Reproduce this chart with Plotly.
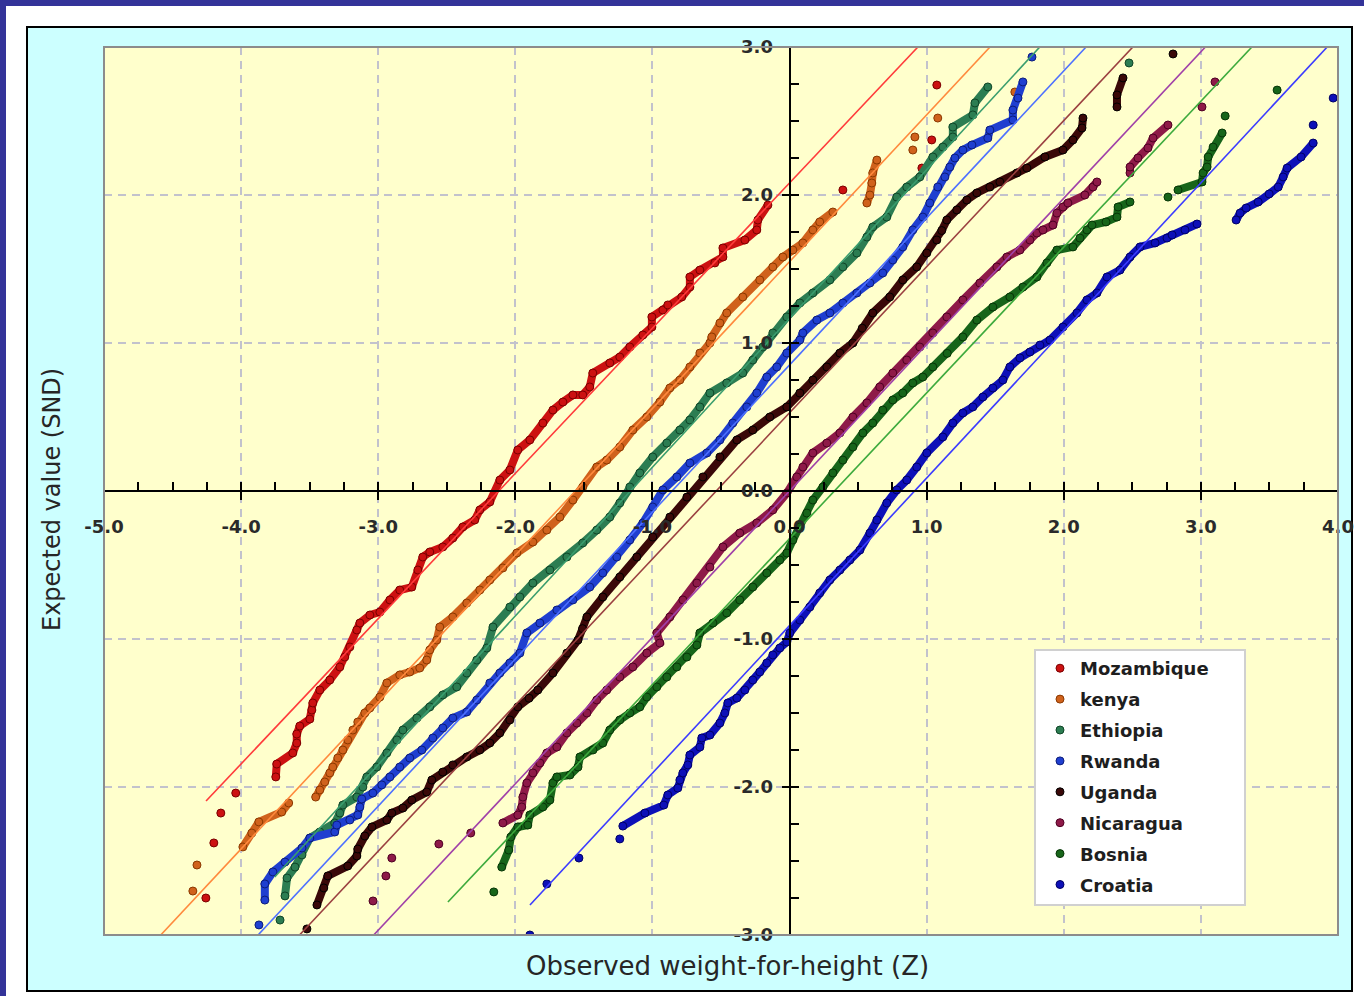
import plotly.graph_objects as go

# ---------------- data ----------------
countries = ["Mozambique", "kenya", "Ethiopia", "Rwanda", "Uganda", "Nicaragua", "Bosnia", "Croatia"]

mozambique_x = [-4.257, -4.199, -4.148, -4.039, -3.747, -3.740, -3.623, -3.594, -3.594, -3.572, -3.499, -3.484, -3.477,
                -3.426, -3.353, -3.280, -3.244, -3.207, -3.156, -3.134, -3.061, -2.988, -2.915, -2.843, -2.755, -2.711,
                -2.675, -2.624, -2.529, -2.456, -2.383, -2.296, -2.259, -2.186, -2.113, -2.040, -1.982, -1.894, -1.799,
                -1.726, -1.653, -1.580, -1.508, -1.457, -1.435, -1.311, -1.238, -1.165, -1.070, -1.004, -1.004, -0.924,
                -0.888, -0.786, -0.727, -0.727, -0.654, -0.545, -0.486, -0.486, -0.326, -0.239, -0.231, -0.158, 0.389,
                0.965, 1.037, 1.074]
mozambique_y = [-2.750, -2.378, -2.176, -2.041, -1.932, -1.845, -1.770, -1.703, -1.642, -1.588, -1.541, -1.480, -1.432,
                -1.345, -1.277, -1.189, -1.122, -1.054, -0.939, -0.892, -0.838, -0.818, -0.736, -0.669, -0.649, -0.534,
                -0.446, -0.412, -0.378, -0.318, -0.243, -0.196, -0.128, -0.074, 0.074, 0.142, 0.277, 0.345, 0.459,
                0.547, 0.601, 0.649, 0.649, 0.703, 0.797, 0.865, 0.905, 0.973, 1.054, 1.108, 1.176, 1.223,
                1.257, 1.311, 1.378, 1.446, 1.493, 1.541, 1.581, 1.642, 1.696, 1.764, 1.831, 1.932, 2.034,
                2.182, 2.372, 2.743]

kenya_x = [-4.352, -4.322, -3.987, -3.922, -3.871, -3.704, -3.653, -3.456, -3.426, -3.390, -3.353, -3.331, -3.295,
           -3.258, -3.222, -3.185, -3.149, -3.098, -3.061, -2.988, -2.937, -2.843, -2.770, -2.697, -2.646, -2.624,
           -2.573, -2.551, -2.456, -2.354, -2.259, -2.186, -2.091, -1.989, -1.872, -1.770, -1.675, -1.580, -1.508,
           -1.406, -1.333, -1.238, -1.143, -1.041, -0.946, -0.873, -0.800, -0.727, -0.654, -0.581, -0.567, -0.508,
           -0.458, -0.341, -0.217, -0.122, -0.049, 0.024, 0.097, 0.170, 0.220, 0.316, 0.564, 0.586, 0.600, 0.607,
           0.637, 0.899, 0.914, 1.081, 1.643]
kenya_y = [-2.703, -2.527, -2.405, -2.311, -2.236, -2.169, -2.108, -2.068, -2.020, -1.966, -1.905, -1.865, -1.804,
           -1.750, -1.682, -1.615, -1.561, -1.500, -1.466, -1.392, -1.297, -1.243, -1.223, -1.196, -1.142, -1.074,
           -1.007, -0.919, -0.851, -0.757, -0.669, -0.601, -0.520, -0.419, -0.345, -0.264, -0.176, -0.061, 0.027,
           0.162, 0.209, 0.297, 0.412, 0.500, 0.601, 0.696, 0.750, 0.838, 0.932, 1.000, 1.041, 1.135,
           1.203, 1.311, 1.426, 1.514, 1.581, 1.628, 1.676, 1.764, 1.818, 1.885, 1.946, 2.000, 2.081, 2.149,
           2.236, 2.304, 2.392, 2.520, 2.696]

ethiopia_x = [-3.716, -3.680, -3.665, -3.607, -3.556, -3.499, -3.426, -3.317, -3.280, -3.258, -3.156, -3.112, -3.083,
              -3.010, -2.937, -2.864, -2.820, -2.718, -2.624, -2.529, -2.427, -2.354, -2.281, -2.208, -2.163, -2.040,
              -1.967, -1.872, -1.748, -1.624, -1.508, -1.406, -1.311, -1.238, -1.165, -1.092, -0.998, -0.895, -0.800,
              -0.727, -0.654, -0.581, -0.458, -0.341, -0.268, -0.195, -0.122, -0.020, 0.075, 0.170, 0.294, 0.389,
              0.491, 0.564, 0.607, 0.709, 0.782, 0.855, 0.950, 1.045, 1.118, 1.191, 1.191, 1.337, 1.352, 1.446,
              2.476]
ethiopia_y = [-2.899, -2.736, -2.615, -2.541, -2.459, -2.345, -2.304, -2.243, -2.176, -2.122, -2.068, -2.000, -1.932,
              -1.865, -1.770, -1.682, -1.615, -1.534, -1.459, -1.378, -1.324, -1.230, -1.142, -1.061, -0.919, -0.784,
              -0.716, -0.622, -0.534, -0.446, -0.351, -0.264, -0.176, -0.081, 0.027, 0.122, 0.230, 0.324, 0.412,
              0.480, 0.568, 0.662, 0.730, 0.797, 0.885, 0.973, 1.068, 1.176, 1.270, 1.338, 1.426, 1.514,
              1.608, 1.716, 1.784, 1.851, 1.986, 2.054, 2.122, 2.257, 2.324, 2.392, 2.459, 2.541, 2.622, 2.730,
              2.892]

rwanda_x = [-3.870, -3.827, -3.827, -3.768, -3.680, -3.556, -3.499, -3.317, -3.302, -3.207, -3.149, -3.134, -3.120,
            -3.039, -2.974, -2.915, -2.843, -2.770, -2.682, -2.602, -2.529, -2.456, -2.354, -2.281, -2.186, -2.113,
            -2.040, -1.967, -1.916, -1.821, -1.697, -1.580, -1.457, -1.362, -1.260, -1.165, -1.070, -0.998, -0.924,
            -0.822, -0.727, -0.603, -0.508, -0.414, -0.312, -0.239, -0.166, -0.093, -0.020, 0.075, 0.097, 0.199,
            0.294, 0.389, 0.491, 0.586, 0.680, 0.753, 0.826, 0.899, 0.972, 1.023, 1.081, 1.133, 1.169, 1.206,
            1.264, 1.330, 1.446, 1.461, 1.629, 1.629, 1.666, 1.702, 1.768]
rwanda_y = [-2.932, -2.764, -2.655, -2.574, -2.507, -2.412, -2.345, -2.304, -2.257, -2.223, -2.189, -2.135, -2.081,
            -2.041, -1.986, -1.932, -1.865, -1.804, -1.750, -1.669, -1.601, -1.534, -1.493, -1.412, -1.297, -1.230,
            -1.162, -1.095, -0.959, -0.892, -0.804, -0.736, -0.649, -0.554, -0.446, -0.331, -0.216, -0.108, 0.007,
            0.095, 0.189, 0.257, 0.345, 0.459, 0.568, 0.662, 0.770, 0.838, 0.932, 1.020, 1.068, 1.155,
            1.203, 1.270, 1.338, 1.405, 1.473, 1.561, 1.649, 1.764, 1.851, 1.946, 2.054, 2.122, 2.189, 2.250,
            2.304, 2.338, 2.385, 2.439, 2.507, 2.574, 2.655, 2.764, 2.932]

uganda_x = [-3.520, -3.447, -3.397, -3.368, -3.222, -3.156, -3.149, -3.098, -3.046, -2.937, -2.901, -2.820, -2.755,
            -2.646, -2.609, -2.529, -2.456, -2.354, -2.259, -2.186, -2.113, -2.040, -1.982, -1.900, -1.836, -1.726,
            -1.624, -1.543, -1.510, -1.478, -1.362, -1.238, -1.114, -0.998, -0.873, -0.749, -0.632, -0.508, -0.384,
            -0.268, -0.144, -0.020, 0.075, 0.170, 0.272, 0.367, 0.462, 0.530, 0.607, 0.731, 0.826, 0.928, 1.001,
            1.074, 1.110, 1.147, 1.220, 1.293, 1.366, 1.461, 1.534, 1.658, 1.731, 1.862, 1.994, 2.067, 2.133,
            2.140, 2.388, 2.388, 2.432, 2.797]
uganda_y = [-2.959, -2.797, -2.682, -2.601, -2.534, -2.466, -2.419, -2.331, -2.270, -2.223, -2.176, -2.142, -2.088,
            -2.034, -1.953, -1.899, -1.851, -1.797, -1.750, -1.703, -1.635, -1.547, -1.459, -1.400, -1.345, -1.230,
            -1.095, -1.007, -0.930, -0.851, -0.716, -0.581, -0.446, -0.311, -0.176, -0.041, 0.095, 0.230, 0.345,
            0.412, 0.500, 0.568, 0.662, 0.750, 0.838, 0.932, 1.000, 1.100, 1.203, 1.311, 1.426, 1.514, 1.608,
            1.696, 1.760, 1.831, 1.899, 1.966, 2.014, 2.054, 2.088, 2.149, 2.182, 2.257, 2.304, 2.372, 2.453,
            2.520, 2.595, 2.676, 2.791, 2.953]

nicaragua_x = [-3.038, -2.944, -2.901, -2.558, -2.325, -2.091, -1.982, -1.953, -1.945, -1.916, -1.872, -1.821, -1.770,
               -1.697, -1.624, -1.551, -1.478, -1.406, -1.333, -1.238, -1.143, -1.041, -0.946, -0.968, -0.873, -0.778,
               -0.676, -0.581, -0.486, -0.363, -0.239, -0.122, -0.020, 0.053, 0.097, 0.170, 0.272, 0.367, 0.462,
               0.564, 0.658, 0.753, 0.855, 0.950, 1.045, 1.147, 1.264, 1.388, 1.512, 1.585, 1.680, 1.753, 1.804,
               1.848, 1.921, 1.950, 1.994, 2.030, 2.154, 2.213, 2.242, 2.483, 2.483, 2.541, 2.614, 2.651, 2.760,
               3.008, 3.103]
nicaragua_y = [-2.770, -2.601, -2.480, -2.385, -2.311, -2.243, -2.189, -2.135, -2.068, -1.973, -1.905, -1.838, -1.770,
               -1.730, -1.635, -1.568, -1.500, -1.412, -1.345, -1.257, -1.189, -1.095, -1.027, -0.959, -0.851, -0.736,
               -0.622, -0.514, -0.378, -0.284, -0.216, -0.128, -0.014, 0.095, 0.162, 0.257, 0.324, 0.392, 0.500,
               0.595, 0.703, 0.797, 0.885, 0.973, 1.068, 1.176, 1.291, 1.405, 1.514, 1.581, 1.628, 1.696, 1.743,
               1.764, 1.797, 1.878, 1.919, 1.946, 2.000, 2.054, 2.088, 2.149, 2.189, 2.250, 2.318, 2.385, 2.473,
               2.595, 2.764]

bosnia_x = [-2.157, -2.099, -2.048, -2.033, -1.982, -1.909, -1.894, -1.799, -1.748, -1.726, -1.697, -1.602, -1.543,
            -1.529, -1.434, -1.362, -1.311, -1.238, -1.165, -1.092, -1.041, -0.968, -0.895, -0.822, -0.749, -0.676,
            -0.654, -0.559, -0.458, -0.363, -0.268, -0.166, -0.071, -0.020, 0.024, 0.075, 0.126, 0.170, 0.243,
            0.316, 0.389, 0.462, 0.535, 0.607, 0.680, 0.753, 0.826, 0.899, 0.972, 1.045, 1.150, 1.264, 1.366,
            1.483, 1.607, 1.702, 1.804, 1.877, 1.950, 2.067, 2.118, 2.169, 2.206, 2.308, 2.388, 2.396, 2.483,
            2.760, 2.833, 3.008, 3.016, 3.045, 3.053, 3.089, 3.155, 3.177, 3.556]
bosnia_y = [-2.709, -2.541, -2.426, -2.338, -2.270, -2.257, -2.189, -2.135, -2.088, -1.973, -1.932, -1.919, -1.865,
            -1.797, -1.750, -1.703, -1.615, -1.547, -1.500, -1.459, -1.392, -1.324, -1.257, -1.189, -1.122, -1.041,
            -0.959, -0.892, -0.824, -0.736, -0.649, -0.554, -0.466, -0.419, -0.331, -0.243, -0.149, -0.061, 0.027,
            0.122, 0.209, 0.297, 0.392, 0.459, 0.547, 0.615, 0.662, 0.730, 0.770, 0.838, 0.930, 1.041, 1.155,
            1.243, 1.311, 1.378, 1.446, 1.541, 1.628, 1.649, 1.709, 1.764, 1.797, 1.818, 1.851, 1.919, 1.953,
            1.986, 2.034, 2.088, 2.149, 2.189, 2.257, 2.324, 2.419, 2.534, 2.709]

croatia_x = [-1.894, -1.770, -1.536, -1.238, -1.216, -1.055, -0.917, -0.888, -0.815, -0.800, -0.778, -0.742, -0.727,
             -0.654, -0.640, -0.581, -0.508, -0.472, -0.450, -0.384, -0.326, -0.268, -0.217, -0.166, -0.122, -0.071,
             -0.020, 0.002, 0.075, 0.148, 0.220, 0.294, 0.367, 0.440, 0.513, 0.586, 0.637, 0.709, 0.782, 0.855,
             0.928, 1.001, 1.118, 1.191, 1.264, 1.337, 1.410, 1.483, 1.556, 1.607, 1.680, 1.753, 1.826, 1.899,
             1.994, 2.096, 2.169, 2.242, 2.315, 2.410, 2.483, 2.556, 2.666, 2.753, 2.790, 2.884, 2.972, 3.257,
             3.286, 3.330, 3.418, 3.498, 3.564, 3.600, 3.629, 3.731, 3.819, 3.819, 3.965]
croatia_y = [-3.000, -2.655, -2.480, -2.351, -2.264, -2.176, -2.122, -2.054, -2.007, -1.953, -1.905, -1.851, -1.784,
             -1.730, -1.669, -1.649, -1.568, -1.500, -1.432, -1.399, -1.345, -1.277, -1.223, -1.162, -1.108, -1.061,
             -1.020, -0.959, -0.872, -0.784, -0.689, -0.601, -0.534, -0.466, -0.399, -0.284, -0.196, -0.081, 0.007,
             0.074, 0.162, 0.257, 0.365, 0.459, 0.527, 0.568, 0.635, 0.696, 0.750, 0.838, 0.899, 0.939, 0.986,
             1.020, 1.108, 1.203, 1.291, 1.338, 1.446, 1.493, 1.581, 1.649, 1.676, 1.709, 1.730, 1.764, 1.804,
             1.831, 1.878, 1.912, 1.953, 2.007, 2.054, 2.122, 2.182, 2.257, 2.351, 2.473, 2.655]

# reference (normal) lines: observed = mean + sd * expected
line_mean = [-2.121, -1.562, -1.160, -0.857, -0.535, 0.000, 0.327, 0.912]
line_sd = [1.019, 1.008, 0.995, 1.0065, 1.013, 1.011, 1.015, 1.003]
line_ymin = [-2.095, -3.0, -2.608, -3.0, -3.0, -3.0, -2.777, -2.797]
line_ymax = 3.0

x_ticks = [-5, -4, -3, -2, -1, 0, 1, 2, 3, 4]
x_ticktext = ["-5.0", "-4.0", "-3.0", "-2.0", "-1.0", "0.0", "1.0", "2.0", "3.0", "4.0"]
y_ticks = [-3, -2, -1, 0, 1, 2, 3]
y_ticktext = ["-3.0", "-2.0", "-1.0", "0.0", "1.0", "2.0", "3.0"]

# ---------------- styles ----------------
marker_fill = ["#CC1111", "#D0621C", "#2C7D52", "#1F3FD0", "#3A0808", "#8E1A48", "#17651A", "#0D10B8"]
marker_edge = ["#7A0000", "#8A3800", "#0F4527", "#0C1C7A", "#000000", "#4E0022", "#073507", "#000066"]
line_colors = ["#FF3B3B", "#FF8A3D", "#3A9D6E", "#4D70FF", "#9A4040", "#A040A8", "#3DAA3D", "#3B3BFF"]

series_x = [mozambique_x, kenya_x, ethiopia_x, rwanda_x, uganda_x, nicaragua_x, bosnia_x, croatia_x]
series_y = [mozambique_y, kenya_y, ethiopia_y, rwanda_y, uganda_y, nicaragua_y, bosnia_y, croatia_y]


def chain(xs, ys, gap=0.2, radius=0.22, min_nb=2):
    """Join neighbouring observations inside the dense part of the cloud (not the sparse tails)."""
    pts = sorted(zip(xs, ys), key=lambda p: p[1])

    def dist(a, b):
        return ((a[0] - b[0]) ** 2 + (a[1] - b[1]) ** 2) ** 0.5

    dense = [sum(1 for q in pts if q is not p and dist(p, q) < radius) >= min_nb for p in pts]
    lx, ly = [], []
    for k in range(len(pts) - 1):
        a, b = pts[k], pts[k + 1]
        if dense[k] and dense[k + 1] and dist(a, b) < gap:
            if lx and (lx[-1], ly[-1]) == a:
                lx.append(b[0]); ly.append(b[1])
            else:
                lx += [None, a[0], b[0]]; ly += [None, a[1], b[1]]
    return lx, ly


fig = go.Figure()

for i, name in enumerate(countries):
    cx, cy = chain(series_x[i], series_y[i])
    fig.add_trace(go.Scatter(x=cx, y=cy, mode="lines", line=dict(color=marker_fill[i], width=8),
                             showlegend=False, hoverinfo="skip", legendgroup=name))
    fig.add_trace(go.Scatter(x=series_x[i], y=series_y[i], mode="markers", name=name, legendgroup=name,
                             marker=dict(size=8, color=marker_fill[i], line=dict(color=marker_edge[i], width=1))))

for i, name in enumerate(countries):
    ys = [line_ymin[i], line_ymax]
    xs = [line_mean[i] + line_sd[i] * v for v in ys]
    fig.add_trace(go.Scatter(x=xs, y=ys, mode="lines", line=dict(color=line_colors[i], width=1.6),
                             showlegend=False, hoverinfo="skip", legendgroup=name))

# invisible trace for the overlay axes (major ticks crossing the axis lines)
fig.add_trace(go.Scatter(x=[], y=[], xaxis="x2", yaxis="y2", showlegend=False))

tick_font = dict(family="DejaVu Sans", size=18, color="#2A2A2A", weight="bold")
grid_col = "#C2C2CC"
x_pos0 = 5.0 / 9.0   # paper position of x = 0
y_pos0 = 0.5         # paper position of y = 0


def px_x(p):
    return (p - 104) / 1234


def px_y(p):
    return (935 - p) / 888


fig.update_layout(
    width=1364, height=996,
    margin=dict(l=104, r=26, t=47, b=61, pad=0, autoexpand=False),
    paper_bgcolor="#333399",
    plot_bgcolor="rgba(0,0,0,0)",
    showlegend=True,
    xaxis=dict(range=[-5, 4], domain=[0, 1], anchor="free", position=y_pos0, automargin=False,
               tickvals=x_ticks, ticktext=x_ticktext, tickfont=tick_font,
               ticks="inside", ticklen=8, tickwidth=2, tickcolor="black",
               minor=dict(dtick=0.25, ticks="inside", ticklen=8, tickwidth=1.5, tickcolor="black", showgrid=False),
               showline=True, linecolor="black", linewidth=2, zeroline=False,
               showgrid=True, gridcolor=grid_col, gridwidth=1.5, griddash="8px,6px",
               ticklabelstandoff=19),
    yaxis=dict(range=[-3, 3], domain=[0, 1], anchor="free", position=x_pos0, automargin=False,
               tickvals=y_ticks, ticktext=y_ticktext, tickfont=tick_font,
               ticks="inside", ticklen=8, tickwidth=2, tickcolor="black",
               minor=dict(dtick=0.25, ticks="inside", ticklen=8, tickwidth=1.5, tickcolor="black", showgrid=False),
               showline=True, linecolor="black", linewidth=2, zeroline=False,
               showgrid=True, gridcolor=grid_col, gridwidth=1.5, griddash="8px,6px",
               ticklabelstandoff=12),
    xaxis2=dict(range=[-5, 4], overlaying="x", anchor="free", position=y_pos0, automargin=False,
                tickvals=x_ticks, ticks="outside", ticklen=8, tickwidth=2, tickcolor="black",
                showticklabels=False, showgrid=False, zeroline=False, showline=False),
    yaxis2=dict(range=[-3, 3], overlaying="y", anchor="free", position=x_pos0, automargin=False,
                tickvals=y_ticks, ticks="outside", ticklen=8, tickwidth=2, tickcolor="black",
                showticklabels=False, showgrid=False, zeroline=False, showline=False),
    legend=dict(x=px_x(1040), y=px_y(650), xanchor="left", yanchor="top",
                bgcolor="rgba(0,0,0,0)", borderwidth=0,
                font=dict(family="DejaVu Sans", size=18, color="#1E1E1E", weight="bold"),
                tracegroupgap=4.5, itemsizing="trace"),
    shapes=[
        dict(type="rect", xref="paper", yref="paper", x0=px_x(6), x1=1.2, y0=-0.2, y1=px_y(6),
             fillcolor="white", line=dict(width=0), layer="below"),
        dict(type="rect", xref="paper", yref="paper", x0=px_x(27), x1=px_x(1352), y0=px_y(991), y1=px_y(27),
             fillcolor="#CCFFFF", line=dict(color="black", width=2), layer="below"),
        dict(type="rect", xref="paper", yref="paper", x0=0, x1=1, y0=0, y1=1,
             fillcolor="#FFFFCC", line=dict(width=0), layer="below"),
        dict(type="rect", xref="paper", yref="paper", x0=0, x1=1, y0=0, y1=1,
             fillcolor="rgba(0,0,0,0)", line=dict(color="#8C8C8C", width=2), layer="above"),
        dict(type="rect", xref="paper", yref="paper", x0=px_x(1035), x1=px_x(1245), y0=px_y(905), y1=px_y(650),
             fillcolor="white", line=dict(color="#D0D0D0", width=2), layer="above"),
    ],
    annotations=[
        dict(text="Observed weight-for-height (Z)", xref="paper", yref="paper",
             x=px_x(727), y=px_y(966), xanchor="center", yanchor="middle", showarrow=False,
             font=dict(family="DejaVu Sans", size=26, color="#262626")),
        dict(text="Expected value (SND)", xref="paper", yref="paper",
             x=px_x(52), y=px_y(500), xanchor="center", yanchor="middle", showarrow=False,
             textangle=-90, font=dict(family="DejaVu Sans", size=24, color="#262626")),
    ],
)

fig.write_html("out.html")
